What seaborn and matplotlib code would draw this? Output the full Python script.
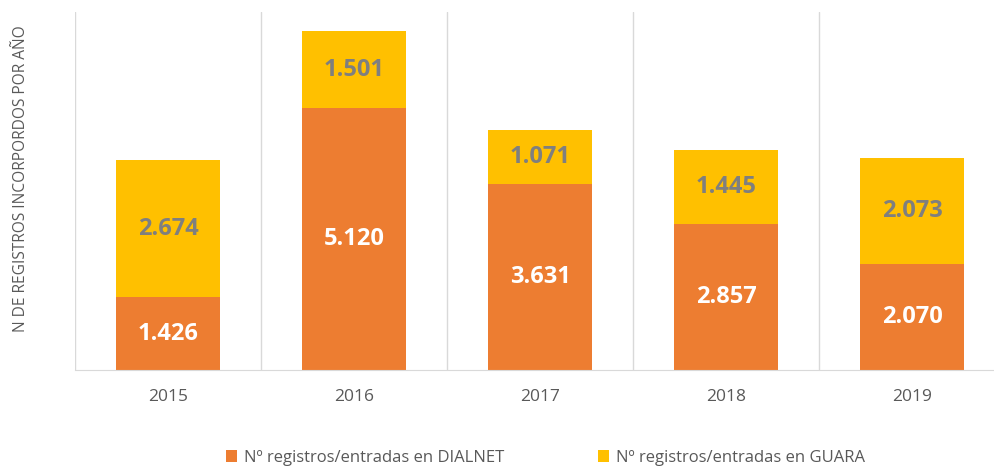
import matplotlib
matplotlib.use("Agg")
import matplotlib.pyplot as plt
import pandas as pd
import seaborn as sns

years = ["2015", "2016", "2017", "2018", "2019"]
dialnet = [1426, 5120, 3631, 2857, 2070]
guara = [2674, 1501, 1071, 1445, 2073]

df = pd.DataFrame({"year": years, "dialnet": dialnet, "guara": guara})
df["total"] = df["dialnet"] + df["guara"]

sns.set_style("white")
plt.rcParams["font.family"] = ["Open Sans", "DejaVu Sans"]

fig = plt.figure(figsize=(9.95, 4.68), dpi=100)
ax = fig.add_axes([0.0754, 0.2094, 0.935, 0.765])

orange = "#ED7D31"
yellow = "#FFC000"

# totals first (yellow), then dialnet on top (orange) -> stacked look
sns.barplot(data=df, x="year", y="total", color=yellow, saturation=1,
            width=0.56, linewidth=0, ax=ax, label="Nº registros/entradas en GUARA")
sns.barplot(data=df, x="year", y="dialnet", color=orange, saturation=1,
            width=0.56, linewidth=0, ax=ax, label="Nº registros/entradas en DIALNET")

fmt = lambda v: f"{int(v):,}".replace(",", ".")
top_c, bot_c = ax.containers[0], ax.containers[1]
# yellow labels centred in the top segment
for bar, d, g in zip(top_c, dialnet, guara):
    x = bar.get_x() + bar.get_width() / 2
    ax.text(x, d + g / 2, fmt(g), ha="center", va="center",
            fontsize=17, fontweight="bold", color="#7F7F7F")
ax.bar_label(bot_c, labels=[fmt(v) for v in dialnet], label_type="center",
             fontsize=17, fontweight="bold", color="white")

ax.set_ylim(0, 7000)
ax.set_xlim(-0.5, 4.5)
ax.set_yticks([])
for xv in [-0.5, 0.5, 1.5, 2.5, 3.5, 4.5]:
    ax.axvline(xv, color="#D9D9D9", lw=1, zorder=0)

for s in ["top", "right", "left"]:
    ax.spines[s].set_visible(False)
ax.spines["bottom"].set_color("#D9D9D9")
ax.tick_params(axis="x", length=0, pad=14, labelsize=12.5, labelcolor="#595959")

ax.set_xlabel("")
ax.set_ylabel("N DE REGISTROS INCORPORDOS POR AÑO", fontsize=11.2,
              color="#595959")
ax.yaxis.set_label_coords(-0.05, 0.535)

handles, labels = ax.get_legend_handles_labels()
order = [labels.index("Nº registros/entradas en DIALNET"),
         labels.index("Nº registros/entradas en GUARA")]
ax.legend([handles[i] for i in order], [labels[i] for i in order],
          loc="center", bbox_to_anchor=(0.548, 0.022), bbox_transform=fig.transFigure,
          ncol=2, frameon=False, fontsize=12, handlelength=0.7,
          handleheight=0.7, handletextpad=0.4, columnspacing=5.6,
          labelcolor="#595959")

fig.savefig("out.png", dpi=100)
